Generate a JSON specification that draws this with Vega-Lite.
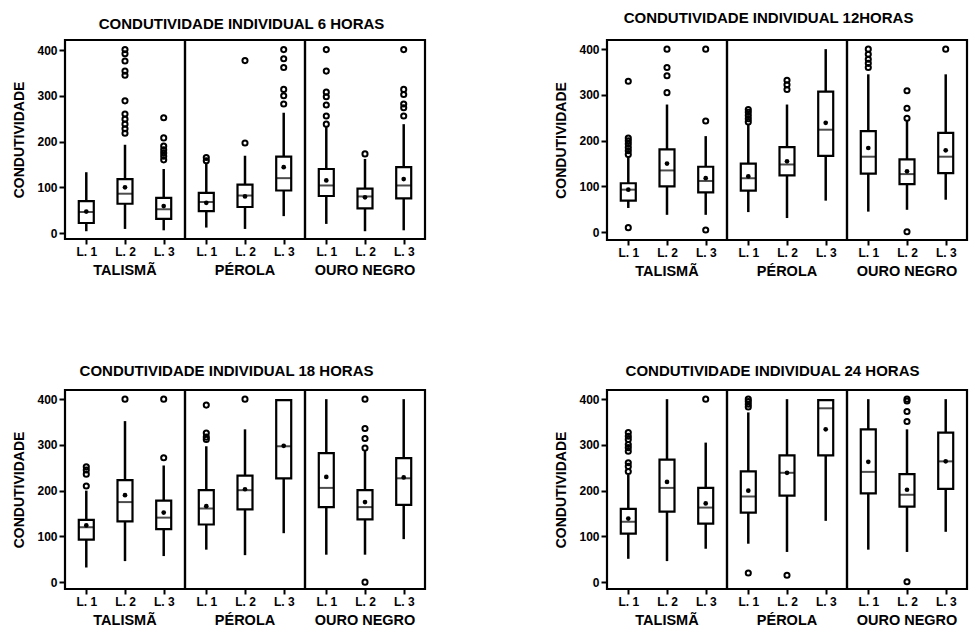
{
  "$schema": "https://vega.github.io/schema/vega-lite/v6.json",
  "background": "white",
  "padding": {"left": 12, "top": 10, "right": 0, "bottom": 2},
  "config": {
    "font": "Liberation Sans",
    "view": {"stroke": "black", "strokeWidth": 2.2},
    "facet": {"spacing": 0},
    "axis": {"labelFont": "Liberation Sans", "labelFontWeight": "bold", "labelColor": "black", "titleColor": "black", "tickColor": "black", "domain": false, "grid": false, "tickWidth": 2},
    "title": {"font": "Liberation Sans", "fontWeight": "bold", "fontSize": 15, "color": "black", "anchor": "middle"},
    "header": {"labelFont": "Liberation Sans", "labelFontWeight": "bold", "labelFontSize": 14.5, "labelColor": "black", "labelOrient": "bottom", "labelPadding": 7}
  },
  "data": {"name": "d", "values": [
    {"k":"b","t":6,"c":"TALISMÃ","lot":"L. 1","lo":4,"q1":22,"med":46,"q3":70,"hi":133,"mean":47},
    {"k":"b","t":6,"c":"TALISMÃ","lot":"L. 2","lo":9,"q1":64,"med":86,"q3":118,"hi":193,"mean":100},
    {"k":"b","t":6,"c":"TALISMÃ","lot":"L. 3","lo":6,"q1":31,"med":52,"q3":77,"hi":140,"mean":59},
    {"k":"b","t":6,"c":"PÉROLA","lot":"L. 1","lo":12,"q1":48,"med":68,"q3":88,"hi":152,"mean":66},
    {"k":"b","t":6,"c":"PÉROLA","lot":"L. 2","lo":9,"q1":57,"med":82,"q3":106,"hi":169,"mean":80},
    {"k":"b","t":6,"c":"PÉROLA","lot":"L. 3","lo":37,"q1":93,"med":120,"q3":167,"hi":263,"mean":144},
    {"k":"b","t":6,"c":"OURO NEGRO","lot":"L. 1","lo":20,"q1":81,"med":104,"q3":140,"hi":232,"mean":115},
    {"k":"b","t":6,"c":"OURO NEGRO","lot":"L. 2","lo":4,"q1":54,"med":80,"q3":97,"hi":162,"mean":78},
    {"k":"b","t":6,"c":"OURO NEGRO","lot":"L. 3","lo":6,"q1":76,"med":104,"q3":144,"hi":238,"mean":118},
    {"k":"o","t":6,"c":"TALISMÃ","lot":"L. 2","v":401},
    {"k":"o","t":6,"c":"TALISMÃ","lot":"L. 2","v":392},
    {"k":"o","t":6,"c":"TALISMÃ","lot":"L. 2","v":376},
    {"k":"o","t":6,"c":"TALISMÃ","lot":"L. 2","v":354},
    {"k":"o","t":6,"c":"TALISMÃ","lot":"L. 2","v":345},
    {"k":"o","t":6,"c":"TALISMÃ","lot":"L. 2","v":289},
    {"k":"o","t":6,"c":"TALISMÃ","lot":"L. 2","v":260},
    {"k":"o","t":6,"c":"TALISMÃ","lot":"L. 2","v":249},
    {"k":"o","t":6,"c":"TALISMÃ","lot":"L. 2","v":238},
    {"k":"o","t":6,"c":"TALISMÃ","lot":"L. 2","v":228},
    {"k":"o","t":6,"c":"TALISMÃ","lot":"L. 2","v":218},
    {"k":"o","t":6,"c":"TALISMÃ","lot":"L. 3","v":252},
    {"k":"o","t":6,"c":"TALISMÃ","lot":"L. 3","v":208},
    {"k":"o","t":6,"c":"TALISMÃ","lot":"L. 3","v":190},
    {"k":"o","t":6,"c":"TALISMÃ","lot":"L. 3","v":182},
    {"k":"o","t":6,"c":"TALISMÃ","lot":"L. 3","v":175},
    {"k":"o","t":6,"c":"TALISMÃ","lot":"L. 3","v":168},
    {"k":"o","t":6,"c":"TALISMÃ","lot":"L. 3","v":160},
    {"k":"o","t":6,"c":"PÉROLA","lot":"L. 1","v":165},
    {"k":"o","t":6,"c":"PÉROLA","lot":"L. 1","v":158},
    {"k":"o","t":6,"c":"PÉROLA","lot":"L. 2","v":377},
    {"k":"o","t":6,"c":"PÉROLA","lot":"L. 2","v":197},
    {"k":"o","t":6,"c":"PÉROLA","lot":"L. 3","v":401},
    {"k":"o","t":6,"c":"PÉROLA","lot":"L. 3","v":381},
    {"k":"o","t":6,"c":"PÉROLA","lot":"L. 3","v":362},
    {"k":"o","t":6,"c":"PÉROLA","lot":"L. 3","v":314},
    {"k":"o","t":6,"c":"PÉROLA","lot":"L. 3","v":300},
    {"k":"o","t":6,"c":"PÉROLA","lot":"L. 3","v":282},
    {"k":"o","t":6,"c":"OURO NEGRO","lot":"L. 1","v":401},
    {"k":"o","t":6,"c":"OURO NEGRO","lot":"L. 1","v":354},
    {"k":"o","t":6,"c":"OURO NEGRO","lot":"L. 1","v":308},
    {"k":"o","t":6,"c":"OURO NEGRO","lot":"L. 1","v":298},
    {"k":"o","t":6,"c":"OURO NEGRO","lot":"L. 1","v":280},
    {"k":"o","t":6,"c":"OURO NEGRO","lot":"L. 1","v":256},
    {"k":"o","t":6,"c":"OURO NEGRO","lot":"L. 1","v":238},
    {"k":"o","t":6,"c":"OURO NEGRO","lot":"L. 2","v":173},
    {"k":"o","t":6,"c":"OURO NEGRO","lot":"L. 3","v":401},
    {"k":"o","t":6,"c":"OURO NEGRO","lot":"L. 3","v":314},
    {"k":"o","t":6,"c":"OURO NEGRO","lot":"L. 3","v":303},
    {"k":"o","t":6,"c":"OURO NEGRO","lot":"L. 3","v":282},
    {"k":"o","t":6,"c":"OURO NEGRO","lot":"L. 3","v":274},
    {"k":"o","t":6,"c":"OURO NEGRO","lot":"L. 3","v":256},

    {"k":"b","t":12,"c":"TALISMÃ","lot":"L. 1","lo":53,"q1":69,"med":93,"q3":107,"hi":165,"mean":93},
    {"k":"b","t":12,"c":"TALISMÃ","lot":"L. 2","lo":38,"q1":100,"med":135,"q3":181,"hi":279,"mean":150},
    {"k":"b","t":12,"c":"TALISMÃ","lot":"L. 3","lo":38,"q1":87,"med":112,"q3":143,"hi":210,"mean":118},
    {"k":"b","t":12,"c":"PÉROLA","lot":"L. 1","lo":44,"q1":91,"med":118,"q3":150,"hi":235,"mean":122},
    {"k":"b","t":12,"c":"PÉROLA","lot":"L. 2","lo":31,"q1":124,"med":148,"q3":186,"hi":279,"mean":155},
    {"k":"b","t":12,"c":"PÉROLA","lot":"L. 3","lo":69,"q1":167,"med":224,"q3":307,"hi":400,"mean":239},
    {"k":"b","t":12,"c":"OURO NEGRO","lot":"L. 1","lo":45,"q1":128,"med":165,"q3":221,"hi":345,"mean":184},
    {"k":"b","t":12,"c":"OURO NEGRO","lot":"L. 2","lo":49,"q1":105,"med":127,"q3":159,"hi":245,"mean":133},
    {"k":"b","t":12,"c":"OURO NEGRO","lot":"L. 3","lo":71,"q1":129,"med":165,"q3":217,"hi":345,"mean":179},
    {"k":"o","t":12,"c":"TALISMÃ","lot":"L. 1","v":330},
    {"k":"o","t":12,"c":"TALISMÃ","lot":"L. 1","v":206},
    {"k":"o","t":12,"c":"TALISMÃ","lot":"L. 1","v":200},
    {"k":"o","t":12,"c":"TALISMÃ","lot":"L. 1","v":193},
    {"k":"o","t":12,"c":"TALISMÃ","lot":"L. 1","v":185},
    {"k":"o","t":12,"c":"TALISMÃ","lot":"L. 1","v":178},
    {"k":"o","t":12,"c":"TALISMÃ","lot":"L. 1","v":170},
    {"k":"o","t":12,"c":"TALISMÃ","lot":"L. 1","v":10},
    {"k":"o","t":12,"c":"TALISMÃ","lot":"L. 2","v":400},
    {"k":"o","t":12,"c":"TALISMÃ","lot":"L. 2","v":360},
    {"k":"o","t":12,"c":"TALISMÃ","lot":"L. 2","v":342},
    {"k":"o","t":12,"c":"TALISMÃ","lot":"L. 2","v":305},
    {"k":"o","t":12,"c":"TALISMÃ","lot":"L. 3","v":400},
    {"k":"o","t":12,"c":"TALISMÃ","lot":"L. 3","v":243},
    {"k":"o","t":12,"c":"TALISMÃ","lot":"L. 3","v":5},
    {"k":"o","t":12,"c":"PÉROLA","lot":"L. 1","v":268},
    {"k":"o","t":12,"c":"PÉROLA","lot":"L. 1","v":262},
    {"k":"o","t":12,"c":"PÉROLA","lot":"L. 1","v":255},
    {"k":"o","t":12,"c":"PÉROLA","lot":"L. 1","v":248},
    {"k":"o","t":12,"c":"PÉROLA","lot":"L. 1","v":241},
    {"k":"o","t":12,"c":"PÉROLA","lot":"L. 2","v":332},
    {"k":"o","t":12,"c":"PÉROLA","lot":"L. 2","v":322},
    {"k":"o","t":12,"c":"PÉROLA","lot":"L. 2","v":312},
    {"k":"o","t":12,"c":"OURO NEGRO","lot":"L. 1","v":400},
    {"k":"o","t":12,"c":"OURO NEGRO","lot":"L. 1","v":389},
    {"k":"o","t":12,"c":"OURO NEGRO","lot":"L. 1","v":378},
    {"k":"o","t":12,"c":"OURO NEGRO","lot":"L. 1","v":369},
    {"k":"o","t":12,"c":"OURO NEGRO","lot":"L. 1","v":360},
    {"k":"o","t":12,"c":"OURO NEGRO","lot":"L. 2","v":309},
    {"k":"o","t":12,"c":"OURO NEGRO","lot":"L. 2","v":271},
    {"k":"o","t":12,"c":"OURO NEGRO","lot":"L. 2","v":249},
    {"k":"o","t":12,"c":"OURO NEGRO","lot":"L. 2","v":1},
    {"k":"o","t":12,"c":"OURO NEGRO","lot":"L. 3","v":400},

    {"k":"b","t":18,"c":"TALISMÃ","lot":"L. 1","lo":32,"q1":93,"med":120,"q3":136,"hi":200,"mean":124},
    {"k":"b","t":18,"c":"TALISMÃ","lot":"L. 2","lo":46,"q1":133,"med":175,"q3":223,"hi":352,"mean":190},
    {"k":"b","t":18,"c":"TALISMÃ","lot":"L. 3","lo":57,"q1":116,"med":141,"q3":178,"hi":255,"mean":152},
    {"k":"b","t":18,"c":"PÉROLA","lot":"L. 1","lo":71,"q1":126,"med":161,"q3":201,"hi":297,"mean":166},
    {"k":"b","t":18,"c":"PÉROLA","lot":"L. 2","lo":59,"q1":159,"med":201,"q3":233,"hi":334,"mean":203},
    {"k":"b","t":18,"c":"PÉROLA","lot":"L. 3","lo":107,"q1":227,"med":297,"q3":398,"hi":400,"mean":298},
    {"k":"b","t":18,"c":"OURO NEGRO","lot":"L. 1","lo":60,"q1":164,"med":206,"q3":282,"hi":400,"mean":230},
    {"k":"b","t":18,"c":"OURO NEGRO","lot":"L. 2","lo":60,"q1":137,"med":164,"q3":201,"hi":288,"mean":175},
    {"k":"b","t":18,"c":"OURO NEGRO","lot":"L. 3","lo":94,"q1":169,"med":227,"q3":271,"hi":400,"mean":229},
    {"k":"o","t":18,"c":"TALISMÃ","lot":"L. 1","v":252},
    {"k":"o","t":18,"c":"TALISMÃ","lot":"L. 1","v":245},
    {"k":"o","t":18,"c":"TALISMÃ","lot":"L. 1","v":236},
    {"k":"o","t":18,"c":"TALISMÃ","lot":"L. 1","v":210},
    {"k":"o","t":18,"c":"TALISMÃ","lot":"L. 2","v":400},
    {"k":"o","t":18,"c":"TALISMÃ","lot":"L. 3","v":400},
    {"k":"o","t":18,"c":"TALISMÃ","lot":"L. 3","v":272},
    {"k":"o","t":18,"c":"PÉROLA","lot":"L. 1","v":387},
    {"k":"o","t":18,"c":"PÉROLA","lot":"L. 1","v":326},
    {"k":"o","t":18,"c":"PÉROLA","lot":"L. 1","v":317},
    {"k":"o","t":18,"c":"PÉROLA","lot":"L. 1","v":312},
    {"k":"o","t":18,"c":"PÉROLA","lot":"L. 2","v":400},
    {"k":"o","t":18,"c":"OURO NEGRO","lot":"L. 2","v":400},
    {"k":"o","t":18,"c":"OURO NEGRO","lot":"L. 2","v":336},
    {"k":"o","t":18,"c":"OURO NEGRO","lot":"L. 2","v":314},
    {"k":"o","t":18,"c":"OURO NEGRO","lot":"L. 2","v":293},
    {"k":"o","t":18,"c":"OURO NEGRO","lot":"L. 2","v":0},

    {"k":"b","t":24,"c":"TALISMÃ","lot":"L. 1","lo":51,"q1":106,"med":132,"q3":160,"hi":235,"mean":139},
    {"k":"b","t":24,"c":"TALISMÃ","lot":"L. 2","lo":46,"q1":154,"med":206,"q3":268,"hi":400,"mean":219},
    {"k":"b","t":24,"c":"TALISMÃ","lot":"L. 3","lo":73,"q1":128,"med":163,"q3":206,"hi":305,"mean":172},
    {"k":"b","t":24,"c":"PÉROLA","lot":"L. 1","lo":84,"q1":152,"med":187,"q3":242,"hi":371,"mean":200},
    {"k":"b","t":24,"c":"PÉROLA","lot":"L. 2","lo":66,"q1":189,"med":239,"q3":277,"hi":400,"mean":239},
    {"k":"b","t":24,"c":"PÉROLA","lot":"L. 3","lo":134,"q1":277,"med":380,"q3":398,"hi":400,"mean":334},
    {"k":"b","t":24,"c":"OURO NEGRO","lot":"L. 1","lo":71,"q1":194,"med":241,"q3":334,"hi":400,"mean":263},
    {"k":"b","t":24,"c":"OURO NEGRO","lot":"L. 2","lo":66,"q1":165,"med":191,"q3":236,"hi":334,"mean":202},
    {"k":"b","t":24,"c":"OURO NEGRO","lot":"L. 3","lo":110,"q1":204,"med":264,"q3":327,"hi":400,"mean":264},
    {"k":"o","t":24,"c":"TALISMÃ","lot":"L. 1","v":327},
    {"k":"o","t":24,"c":"TALISMÃ","lot":"L. 1","v":319},
    {"k":"o","t":24,"c":"TALISMÃ","lot":"L. 1","v":312},
    {"k":"o","t":24,"c":"TALISMÃ","lot":"L. 1","v":301},
    {"k":"o","t":24,"c":"TALISMÃ","lot":"L. 1","v":294},
    {"k":"o","t":24,"c":"TALISMÃ","lot":"L. 1","v":286},
    {"k":"o","t":24,"c":"TALISMÃ","lot":"L. 1","v":261},
    {"k":"o","t":24,"c":"TALISMÃ","lot":"L. 1","v":253},
    {"k":"o","t":24,"c":"TALISMÃ","lot":"L. 1","v":242},
    {"k":"o","t":24,"c":"TALISMÃ","lot":"L. 3","v":400},
    {"k":"o","t":24,"c":"PÉROLA","lot":"L. 1","v":400},
    {"k":"o","t":24,"c":"PÉROLA","lot":"L. 1","v":395},
    {"k":"o","t":24,"c":"PÉROLA","lot":"L. 1","v":389},
    {"k":"o","t":24,"c":"PÉROLA","lot":"L. 1","v":383},
    {"k":"o","t":24,"c":"PÉROLA","lot":"L. 1","v":20},
    {"k":"o","t":24,"c":"PÉROLA","lot":"L. 2","v":15},
    {"k":"o","t":24,"c":"OURO NEGRO","lot":"L. 2","v":400},
    {"k":"o","t":24,"c":"OURO NEGRO","lot":"L. 2","v":396},
    {"k":"o","t":24,"c":"OURO NEGRO","lot":"L. 2","v":373},
    {"k":"o","t":24,"c":"OURO NEGRO","lot":"L. 2","v":351},
    {"k":"o","t":24,"c":"OURO NEGRO","lot":"L. 2","v":1}
  ]},
  "vconcat": [
    {"hconcat": [
      {
        "title": {"text": "CONDUTIVIDADE INDIVIDUAL 6 HORAS", "offset": 12, "dx": 22, "dy": 5},
        "transform": [{"filter": "datum.t == 6"}],
        "spacing": {"column": 0},
        "bounds": "flush",
        "facet": {"column": {"field": "c", "type": "nominal", "sort": ["TALISMÃ", "PÉROLA", "OURO NEGRO"], "title": null}},
        "spec": {
          "width": 120, "height": 199,
          "encoding": {"x": {"field": "lot", "type": "nominal", "scale": {"type": "point", "padding": 0.55}, "axis": {"title": null, "labelAngle": 0, "labelFontSize": 12, "tickSize": 5, "labelPadding": 2}}},
          "layer": [
            {"transform": [{"filter": "datum.k == 'b'"}], "mark": {"type": "rule", "color": "black", "strokeWidth": 2.5},
             "encoding": {"y": {"field": "lo", "type": "quantitative", "scale": {"domain": [-13, 422], "nice": false, "zero": false}, "axis": {"values": [0, 100, 200, 300, 400], "title": "CONDUTIVIDADE", "titleFontSize": 14, "titleFontWeight": "bold", "labelFontSize": 12, "tickSize": 6, "titlePadding": 10}}, "y2": {"field": "hi"}}},
            {"transform": [{"filter": "datum.k == 'b'"}], "mark": {"type": "bar", "size": 15, "fill": "white", "stroke": "black", "strokeWidth": 2.2},
             "encoding": {"y": {"field": "q1", "type": "quantitative"}, "y2": {"field": "q3"}}},
            {"transform": [{"filter": "datum.k == 'b'"}], "mark": {"type": "tick", "size": 15, "thickness": 2, "color": "black"},
             "encoding": {"y": {"field": "med", "type": "quantitative"}}},
            {"transform": [{"filter": "datum.k == 'b'"}], "mark": {"type": "point", "filled": true, "size": 22, "color": "black", "opacity": 1},
             "encoding": {"y": {"field": "mean", "type": "quantitative"}}},
            {"transform": [{"filter": "datum.k == 'o'"}], "mark": {"type": "point", "filled": false, "size": 26, "strokeWidth": 2, "color": "black", "opacity": 1},
             "encoding": {"y": {"field": "v", "type": "quantitative"}}}
          ]
        }
      },
      {
        "title": {"text": "CONDUTIVIDADE INDIVIDUAL 12HORAS", "offset": 9, "dx": 7, "dy": -4},
        "transform": [{"filter": "datum.t == 12"}],
        "spacing": {"column": 0},
        "bounds": "flush",
        "facet": {"column": {"field": "c", "type": "nominal", "sort": ["TALISMÃ", "PÉROLA", "OURO NEGRO"], "title": null}},
        "spec": {
          "width": 120, "height": 200,
          "encoding": {"x": {"field": "lot", "type": "nominal", "scale": {"type": "point", "padding": 0.55}, "axis": {"title": null, "labelAngle": 0, "labelFontSize": 12, "tickSize": 5, "labelPadding": 2}}},
          "layer": [
            {"transform": [{"filter": "datum.k == 'b'"}], "mark": {"type": "rule", "color": "black", "strokeWidth": 2.5},
             "encoding": {"y": {"field": "lo", "type": "quantitative", "scale": {"domain": [-17, 420], "nice": false, "zero": false}, "axis": {"values": [0, 100, 200, 300, 400], "title": "CONDUTIVIDADE", "titleFontSize": 14, "titleFontWeight": "bold", "labelFontSize": 12, "tickSize": 6, "titlePadding": 10}}, "y2": {"field": "hi"}}},
            {"transform": [{"filter": "datum.k == 'b'"}], "mark": {"type": "bar", "size": 15, "fill": "white", "stroke": "black", "strokeWidth": 2.2},
             "encoding": {"y": {"field": "q1", "type": "quantitative"}, "y2": {"field": "q3"}}},
            {"transform": [{"filter": "datum.k == 'b'"}], "mark": {"type": "tick", "size": 15, "thickness": 2, "color": "black"},
             "encoding": {"y": {"field": "med", "type": "quantitative"}}},
            {"transform": [{"filter": "datum.k == 'b'"}], "mark": {"type": "point", "filled": true, "size": 22, "color": "black", "opacity": 1},
             "encoding": {"y": {"field": "mean", "type": "quantitative"}}},
            {"transform": [{"filter": "datum.k == 'o'"}], "mark": {"type": "point", "filled": false, "size": 26, "strokeWidth": 2, "color": "black", "opacity": 1},
             "encoding": {"y": {"field": "v", "type": "quantitative"}}}
          ]
        }
      }
    ], "spacing": 127},
    {"hconcat": [
      {
        "title": {"text": "CONDUTIVIDADE INDIVIDUAL 18 HORAS", "offset": 10, "dx": 7},
        "transform": [{"filter": "datum.t == 18"}],
        "spacing": {"column": 0},
        "bounds": "flush",
        "facet": {"column": {"field": "c", "type": "nominal", "sort": ["TALISMÃ", "PÉROLA", "OURO NEGRO"], "title": null}},
        "spec": {
          "width": 120, "height": 199,
          "encoding": {"x": {"field": "lot", "type": "nominal", "scale": {"type": "point", "padding": 0.55}, "axis": {"title": null, "labelAngle": 0, "labelFontSize": 12, "tickSize": 5, "labelPadding": 2}}},
          "layer": [
            {"transform": [{"filter": "datum.k == 'b'"}], "mark": {"type": "rule", "color": "black", "strokeWidth": 2.5},
             "encoding": {"y": {"field": "lo", "type": "quantitative", "scale": {"domain": [-15, 420], "nice": false, "zero": false}, "axis": {"values": [0, 100, 200, 300, 400], "title": "CONDUTIVIDADE", "titleFontSize": 14, "titleFontWeight": "bold", "labelFontSize": 12, "tickSize": 6, "titlePadding": 10}}, "y2": {"field": "hi"}}},
            {"transform": [{"filter": "datum.k == 'b'"}], "mark": {"type": "bar", "size": 15, "fill": "white", "stroke": "black", "strokeWidth": 2.2},
             "encoding": {"y": {"field": "q1", "type": "quantitative"}, "y2": {"field": "q3"}}},
            {"transform": [{"filter": "datum.k == 'b'"}], "mark": {"type": "tick", "size": 15, "thickness": 2, "color": "black"},
             "encoding": {"y": {"field": "med", "type": "quantitative"}}},
            {"transform": [{"filter": "datum.k == 'b'"}], "mark": {"type": "point", "filled": true, "size": 22, "color": "black", "opacity": 1},
             "encoding": {"y": {"field": "mean", "type": "quantitative"}}},
            {"transform": [{"filter": "datum.k == 'o'"}], "mark": {"type": "point", "filled": false, "size": 26, "strokeWidth": 2, "color": "black", "opacity": 1},
             "encoding": {"y": {"field": "v", "type": "quantitative"}}}
          ]
        }
      },
      {
        "title": {"text": "CONDUTIVIDADE INDIVIDUAL 24 HORAS", "offset": 10, "dx": 11},
        "transform": [{"filter": "datum.t == 24"}],
        "spacing": {"column": 0},
        "bounds": "flush",
        "facet": {"column": {"field": "c", "type": "nominal", "sort": ["TALISMÃ", "PÉROLA", "OURO NEGRO"], "title": null}},
        "spec": {
          "width": 120, "height": 199,
          "encoding": {"x": {"field": "lot", "type": "nominal", "scale": {"type": "point", "padding": 0.55}, "axis": {"title": null, "labelAngle": 0, "labelFontSize": 12, "tickSize": 5, "labelPadding": 2}}},
          "layer": [
            {"transform": [{"filter": "datum.k == 'b'"}], "mark": {"type": "rule", "color": "black", "strokeWidth": 2.5},
             "encoding": {"y": {"field": "lo", "type": "quantitative", "scale": {"domain": [-15, 420], "nice": false, "zero": false}, "axis": {"values": [0, 100, 200, 300, 400], "title": "CONDUTIVIDADE", "titleFontSize": 14, "titleFontWeight": "bold", "labelFontSize": 12, "tickSize": 6, "titlePadding": 10}}, "y2": {"field": "hi"}}},
            {"transform": [{"filter": "datum.k == 'b'"}], "mark": {"type": "bar", "size": 15, "fill": "white", "stroke": "black", "strokeWidth": 2.2},
             "encoding": {"y": {"field": "q1", "type": "quantitative"}, "y2": {"field": "q3"}}},
            {"transform": [{"filter": "datum.k == 'b'"}], "mark": {"type": "tick", "size": 15, "thickness": 2, "color": "black"},
             "encoding": {"y": {"field": "med", "type": "quantitative"}}},
            {"transform": [{"filter": "datum.k == 'b'"}], "mark": {"type": "point", "filled": true, "size": 22, "color": "black", "opacity": 1},
             "encoding": {"y": {"field": "mean", "type": "quantitative"}}},
            {"transform": [{"filter": "datum.k == 'o'"}], "mark": {"type": "point", "filled": false, "size": 26, "strokeWidth": 2, "color": "black", "opacity": 1},
             "encoding": {"y": {"field": "v", "type": "quantitative"}}}
          ]
        }
      }
    ], "spacing": 127}
  ],
  "spacing": 84
}
